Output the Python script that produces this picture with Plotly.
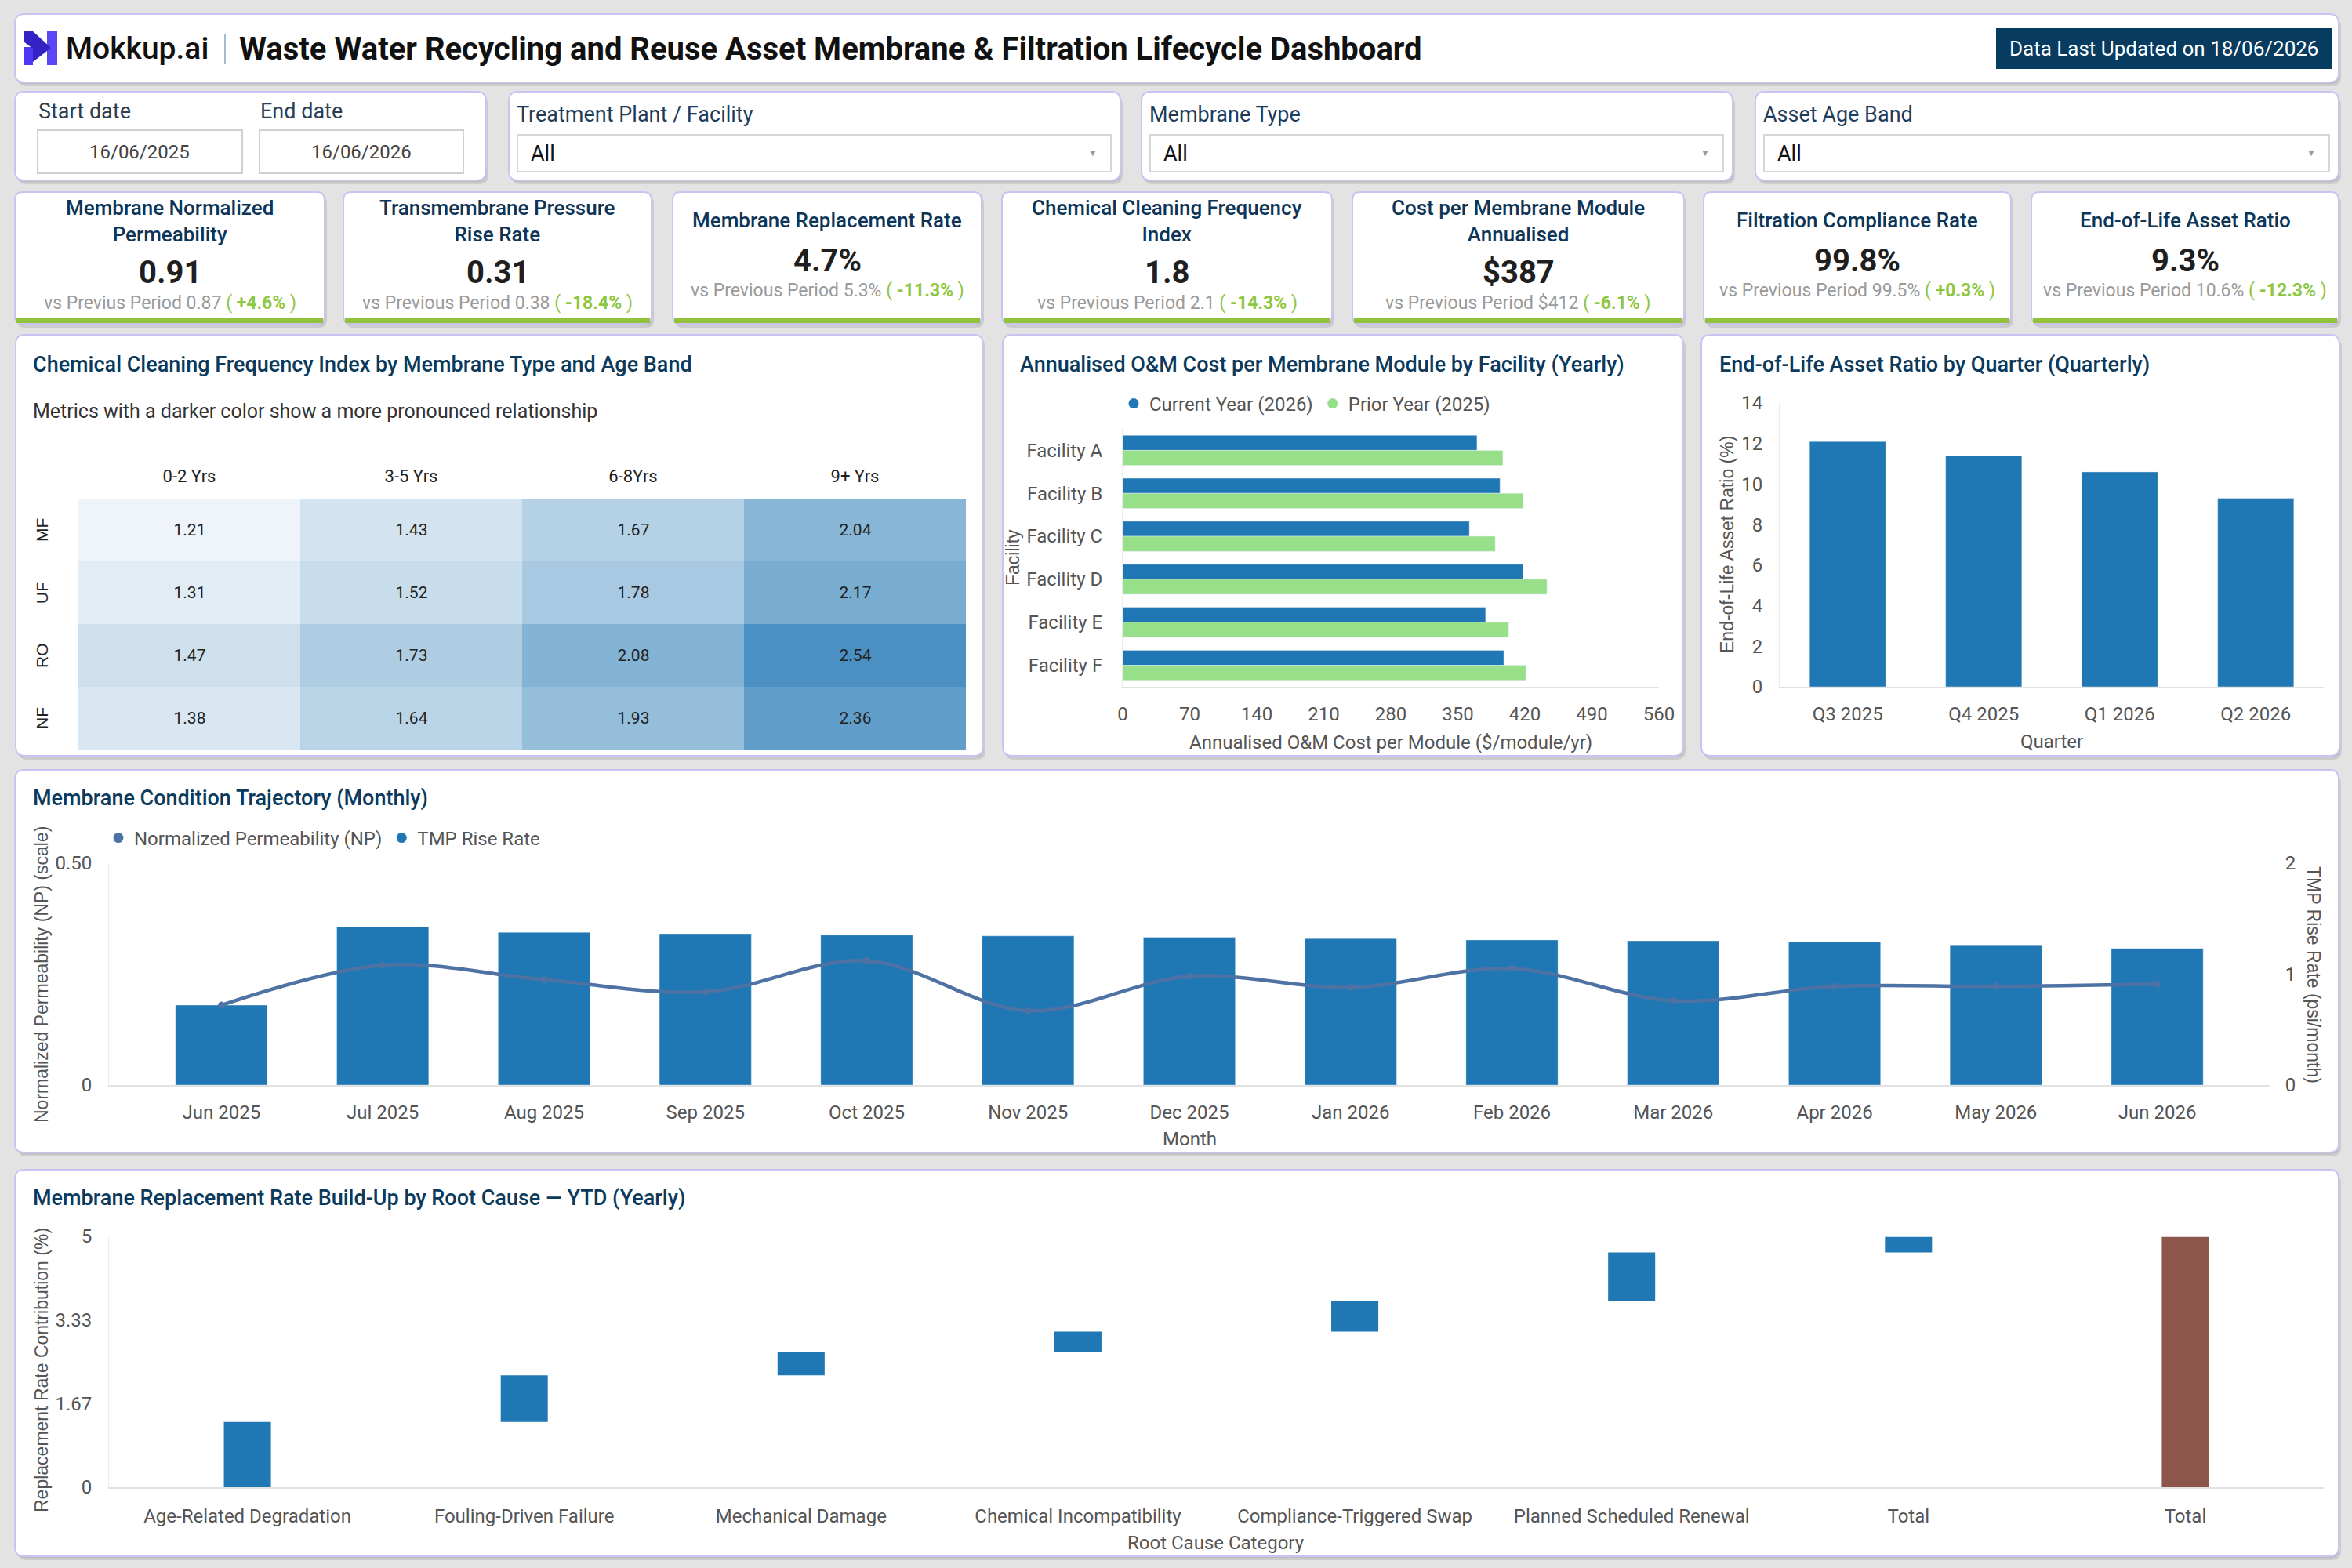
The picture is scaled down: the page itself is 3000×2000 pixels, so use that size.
import plotly.graph_objects as go

W, H = 3000, 2000


def px(x):
    return x / W


def py(y):
    return 1 - y / H


# ---------------- DATA ----------------
kpi_titles = ["Membrane Normalized<br>Permeability", "Transmembrane Pressure<br>Rise Rate",
              "Membrane Replacement Rate", "Chemical Cleaning Frequency<br>Index",
              "Cost per Membrane Module<br>Annualised", "Filtration Compliance Rate",
              "End-of-Life Asset Ratio"]
kpi_values = ["0.91", "0.31", "4.7%", "1.8", "$387", "99.8%", "9.3%"]
kpi_prev_labels = ["vs Previus Period", "vs Previous Period", "vs Previous Period", "vs Previous Period",
                   "vs Previous Period", "vs Previous Period", "vs Previous Period"]
kpi_prev = ["0.87", "0.38", "5.3%", "2.1", "$412", "99.5%", "10.6%"]
kpi_delta = ["+4.6%", "-18.4%", "-11.3%", "-14.3%", "-6.1%", "+0.3%", "-12.3%"]

age_bands = ["0-2 Yrs", "3-5 Yrs", "6-8Yrs", "9+ Yrs"]
membrane_types = ["MF", "UF", "RO", "NF"]
cleaning_index = [[1.21, 1.43, 1.67, 2.04],
                  [1.31, 1.52, 1.78, 2.17],
                  [1.47, 1.73, 2.08, 2.54],
                  [1.38, 1.64, 1.93, 2.36]]

facilities = ["Facility A", "Facility B", "Facility C", "Facility D", "Facility E", "Facility F"]
cost_current = [370, 394, 362, 418, 379, 398]
cost_prior = [397, 418, 389, 443, 403, 421]
cost_ticks = [0, 70, 140, 210, 280, 350, 420, 490, 560]

quarters = ["Q3 2025", "Q4 2025", "Q1 2026", "Q2 2026"]
eol_ratio = [12.1, 11.4, 10.6, 9.3]

months = ["Jun 2025", "Jul 2025", "Aug 2025", "Sep 2025", "Oct 2025", "Nov 2025", "Dec 2025",
          "Jan 2026", "Feb 2026", "Mar 2026", "Apr 2026", "May 2026", "Jun 2026"]
tmp_rise = [0.18, 0.357, 0.344, 0.341, 0.338, 0.336, 0.333, 0.330, 0.327, 0.325, 0.323, 0.316, 0.308]
np_values = [0.72, 1.08, 0.95, 0.84, 1.12, 0.67, 0.98, 0.88, 1.05, 0.76, 0.89, 0.89, 0.91]

root_causes = ["Age-Related Degradation", "Fouling-Driven Failure", "Mechanical Damage",
               "Chemical Incompatibility", "Compliance-Triggered Swap", "Planned Scheduled Renewal",
               "Total", "Total"]
contributions = [1.3, 0.93, 0.47, 0.4, 0.61, 0.97, 0.31, 0]
measures = ["relative"] * 7 + ["total"]

filter_labels = ["Treatment Plant / Facility", "Membrane Type", "Asset Age Band"]
filter_values = ["All", "All", "All"]
start_date, end_date = "16/06/2025", "16/06/2026"

# ---------------- STYLE ----------------
FONT = "Roboto"
AXFONT = "Liberation Sans, Arial"
TITLE_C = "#0b3a5c"
TICK_C = "#555555"
BLUE = "#1f77b4"
GREEN_BAR = "#98df8a"
LINE_C = "#4e72a3"
ACCENT = "#8dc63f"
BORDER = "#c9c4f2"
TICK_SIZE = 24

shapes = []
annotations = []


def rrect_path(x0, y0, x1, y1, r=12):
    rx, ry = r / W, r / H
    X0, X1, Y0, Y1 = px(x0), px(x1), py(y0), py(y1)
    return (f"M {X0+rx},{Y0} L {X1-rx},{Y0} Q {X1},{Y0} {X1},{Y0-ry} L {X1},{Y1+ry} "
            f"Q {X1},{Y1} {X1-rx},{Y1} L {X0+rx},{Y1} Q {X0},{Y1} {X0},{Y1+ry} "
            f"L {X0},{Y0-ry} Q {X0},{Y0} {X0+rx},{Y0} Z")


def card(x0, y0, x1, y1, r=12, border=BORDER):
    shapes.append(dict(type="path", xref="paper", yref="paper", layer="below",
                       path=rrect_path(x0 + 3, y0 + 5, x1 + 3, y1 + 5, r),
                       fillcolor="rgba(0,0,0,0.10)", line=dict(width=0)))
    shapes.append(dict(type="path", xref="paper", yref="paper", layer="below",
                       path=rrect_path(x0 + 1, y0 + 2, x1 + 1, y1 + 2, r),
                       fillcolor="rgba(0,0,0,0.08)", line=dict(width=0)))
    shapes.append(dict(type="path", xref="paper", yref="paper", layer="below",
                       path=rrect_path(x0, y0, x1, y1, r),
                       fillcolor="white", line=dict(color=border, width=2)))


def rect(x0, y0, x1, y1, fill="white", line_color=None, lw=0, layer="below"):
    shapes.append(dict(type="rect", xref="paper", yref="paper", layer=layer,
                       x0=px(x0), x1=px(x1), y0=py(y1), y1=py(y0), fillcolor=fill,
                       line=dict(color=line_color or fill, width=lw)))


def poly(points, color):
    d = "M " + " L ".join(f"{px(x)},{py(y)}" for x, y in points) + " Z"
    shapes.append(dict(type="path", xref="paper", yref="paper", layer="above", path=d,
                       fillcolor=color, line=dict(width=0)))


def text(x, y, s, size=22, color="#222", xanchor="left", yanchor="middle", weight=None,
         family=FONT, angle=0, align="left"):
    f = dict(size=size, color=color, family=family)
    if weight is not None:
        f["weight"] = weight
    annotations.append(dict(xref="paper", yref="paper", x=px(x), y=py(y), text=s, showarrow=False,
                            xanchor=xanchor, yanchor=yanchor, font=f, textangle=angle, align=align))


# ---------------- HEADER ----------------
card(19, 18, 2983, 105)
# logo
poly([(60, 40), (73, 40), (73, 83), (60, 83)], "#5a45f7")
poly([(30, 60), (42, 60), (42, 83), (30, 83)], "#4f3af3")
poly([(30, 40), (42, 40), (65, 61), (42, 79), (42, 62), (30, 53)], "#3522c4")
text(82, 62, "Mokkup.ai", size=39, color="#111", weight=500)
shapes.append(dict(type="line", xref="paper", yref="paper", x0=px(287), x1=px(287), y0=py(44), y1=py(82),
                   line=dict(color="#7fa9c7", width=1.5)))
text(303, 62, "Waste Water Recycling and Reuse Asset Membrane & Filtration Lifecycle Dashboard",
     size=40, color="#111", weight="bold")
rect(2546, 36, 2974, 88, fill="#073b5f", layer="above")
text(2760, 62, "Data Last Updated on 18/06/2026", size=26, color="white", xanchor="center")

# ---------------- FILTERS ----------------
card(19, 117, 620, 230)
text(47, 142, "Start date", size=27, color="#2c3e50")
text(330, 142, "End date", size=27, color="#2c3e50")
rect(48, 166, 309, 221, fill="white", line_color="#d0d0d0", lw=2)
rect(331, 166, 591, 221, fill="white", line_color="#d0d0d0", lw=2)
text(178, 194, start_date, size=24, color="#444", xanchor="center")
text(461, 194, end_date, size=24, color="#444", xanchor="center")

filter_boxes = [(649, 1429), (1456, 2210), (2239, 2983)]
for (fx0, fx1), lab, val in zip(filter_boxes, filter_labels, filter_values):
    card(fx0, 117, fx1, 230)
    text(fx0 + 8, 146, lab, size=27, color="#1e3d5c")
    rect(fx0 + 11, 172, fx1 - 12, 219, fill="white", line_color="#d6d6d6", lw=2)
    text(fx0 + 26, 196, val, size=27, color="#111")
    text(fx1 - 35, 195, "▼", size=12, color="#999", xanchor="center")

# ---------------- KPI CARDS ----------------
kpi_boxes = [(19, 414), (438, 831), (858, 1252), (1278, 1699), (1725, 2148), (2173, 2565), (2591, 2983)]
for (kx0, kx1), t, v, pl, pv, d in zip(kpi_boxes, kpi_titles, kpi_values, kpi_prev_labels, kpi_prev, kpi_delta):
    card(kx0, 245, kx1, 413, r=10)
    rect(kx0 + 2, 405, kx1 - 2, 412, fill="#93c13a")
    cx = (kx0 + kx1) / 2
    two = "<br>" in t
    ty, vy, sy = (282, 347, 386) if two else (281, 332, 370)
    text(cx, ty, t, size=26, color="#0d3557", xanchor="center", weight=500, align="center")
    text(cx, vy, v, size=40, color="#1f1f1f", xanchor="center", weight="bold")
    text(cx, sy, f"{pl} {pv} <span style='color:{ACCENT}'>( <b>{d}</b> )</span>",
         size=23, color="#9a9a9a", xanchor="center")

# ---------------- CHART CARDS ----------------
card(20, 427, 1254, 964)
card(1279, 427, 2147, 964)
card(2170, 427, 2984, 964)
card(19, 982, 2983, 1470)
card(19, 1492, 2983, 1985)

TS = 27
text(40, 465, "Chemical Cleaning Frequency Index by Membrane Type and Age Band", size=TS, color=TITLE_C, weight=500)
text(40, 525, "Metrics with a darker color show a more pronounced relationship", size=25, color="#333")
text(1299, 465, "Annualised O&M Cost per Membrane Module by Facility (Yearly)", size=TS, color=TITLE_C, weight=500)
text(2191, 465, "End-of-Life Asset Ratio by Quarter (Quarterly)", size=TS, color=TITLE_C, weight=500)
text(40, 1018, "Membrane Condition Trajectory (Monthly)", size=TS, color=TITLE_C, weight=500)
text(40, 1528, "Membrane Replacement Rate Build-Up by Root Cause \u2014 YTD (Yearly)", size=TS, color=TITLE_C, weight=500)

# axis titles
text(1292, 711, "Facility", size=23, color=TICK_C, xanchor="center", family=AXFONT, angle=-90)
text(1774, 947, "Annualised O&M Cost per Module ($/module/yr)", size=24, color=TICK_C, xanchor="center")
text(2203, 695, "End-of-Life Asset Ratio (%)", size=23, color=TICK_C, xanchor="center", family=AXFONT, angle=-90)
text(2617, 946, "Quarter", size=24, color=TICK_C, xanchor="center")
text(53, 1243, "Normalized Permeability (NP) (scale)", size=23, color=TICK_C, xanchor="center", family=AXFONT, angle=-90)
text(2951, 1243, "TMP Rise Rate (psi/month)", size=23, color=TICK_C, xanchor="center", family=AXFONT, angle=90)
text(1517, 1453, "Month", size=24, color=TICK_C, xanchor="center")
text(53, 1748, "Replacement Rate Contribution (%)", size=23, color=TICK_C, xanchor="center", family=AXFONT, angle=-90)
text(1551, 1968, "Root Cause Category", size=24, color=TICK_C, xanchor="center")

# heatmap row labels (rotated), placed on the heatmap's category axis
for mt in membrane_types:
    annotations.append(dict(xref="paper", yref="y", x=px(53), y=mt, text=mt, showarrow=False,
                            textangle=-90, xanchor="center", yanchor="middle",
                            font=dict(size=21, color="#222", family=AXFONT)))

# ---------------- TRACES ----------------
fig = go.Figure()

fig.add_trace(go.Heatmap(
    z=cleaning_index, x=age_bands, y=membrane_types, xaxis="x", yaxis="y",
    colorscale=[[0, "#eef4f9"], [1, "#4a90c2"]], zmin=1.21, zmax=2.54, showscale=False,
    texttemplate="%{z:.2f}", textfont=dict(size=21, color="#222", family=FONT), hoverinfo="skip"))

fig.add_trace(go.Bar(x=cost_current, y=facilities, orientation="h", xaxis="x2", yaxis="y2",
                     marker=dict(color=BLUE), name="Current Year (2026)", showlegend=False))
fig.add_trace(go.Bar(x=cost_prior, y=facilities, orientation="h", xaxis="x2", yaxis="y2",
                     marker=dict(color=GREEN_BAR), name="Prior Year (2025)", showlegend=False))
for nm, col in [("Current Year (2026)", BLUE), ("Prior Year (2025)", GREEN_BAR)]:
    fig.add_trace(go.Scatter(x=[None], y=[None], xaxis="x2", yaxis="y2", mode="markers",
                             marker=dict(size=13, color=col), name=nm, legend="legend"))

fig.add_trace(go.Bar(x=quarters, y=eol_ratio, xaxis="x3", yaxis="y3", width=0.56,
                     marker=dict(color=BLUE), showlegend=False))

fig.add_trace(go.Bar(x=months, y=tmp_rise, xaxis="x4", yaxis="y4", width=0.57,
                     marker=dict(color=BLUE, line=dict(color="rgba(255,255,255,0.35)", width=1)),
                     name="TMP Rise Rate", showlegend=False))
fig.add_trace(go.Scatter(x=months, y=np_values, xaxis="x4", yaxis="y5", mode="lines+markers",
                         line=dict(shape="spline", color=LINE_C, width=4.5),
                         marker=dict(size=9, color=LINE_C), name="Normalized Permeability (NP)",
                         showlegend=False))
for nm, col in [("Normalized Permeability (NP)", LINE_C), ("TMP Rise Rate", BLUE)]:
    fig.add_trace(go.Scatter(x=[None], y=[None], xaxis="x4", yaxis="y4", mode="markers",
                             marker=dict(size=13, color=col), name=nm, legend="legend2"))

fig.add_trace(go.Waterfall(x=list(range(len(root_causes))), y=contributions, measure=measures,
                           xaxis="x5", yaxis="y6", showlegend=False,
                           connector=dict(visible=False),
                           increasing=dict(marker=dict(color=BLUE)),
                           totals=dict(marker=dict(color="#8c564b"))))

# ---------------- LAYOUT ----------------
tickf = dict(size=TICK_SIZE, color=TICK_C, family=FONT)
base_ax = dict(showgrid=False, zeroline=False, ticks="", tickfont=tickf, fixedrange=True, automargin=False)
XSO = 12

fig.update_layout(
    width=W, height=H, margin=dict(l=0, r=0, t=0, b=0, pad=0, autoexpand=False),
    paper_bgcolor="#e3e3e3", plot_bgcolor="rgba(0,0,0,0)",
    font=dict(family=FONT, color="#333"),
    bargap=0.3, bargroupgap=0, barmode="group", waterfallgap=0.83,
    shapes=shapes, annotations=annotations,
    xaxis=dict(base_ax, domain=[px(100), px(1232)], anchor="y", side="top",
               tickfont=dict(size=22, color="#222", family=FONT), ticklabelstandoff=16),
    yaxis=dict(base_ax, domain=[py(956), py(636)], anchor="x", autorange="reversed", showticklabels=False),
    xaxis2=dict(base_ax, domain=[px(1432), px(2116)], anchor="y2", range=[0, 560], tickvals=cost_ticks,
                showline=True, linecolor="#e2e2e2", linewidth=2, ticklabelstandoff=XSO),
    yaxis2=dict(base_ax, domain=[py(876), py(547)], anchor="x2", autorange="reversed",
                showline=True, linecolor="#ececec", linewidth=1, ticklabelstandoff=20),
    xaxis3=dict(base_ax, domain=[px(2270), px(2964)], anchor="y3",
                showline=True, linecolor="#e2e2e2", linewidth=2, ticklabelstandoff=XSO),
    yaxis3=dict(base_ax, domain=[py(876), py(514)], anchor="x3", range=[0, 14], dtick=2,
                showline=True, linecolor="#ececec", linewidth=1, ticklabelstandoff=16),
    xaxis4=dict(base_ax, domain=[px(139), px(2895)], anchor="y4",
                showline=True, linecolor="#e2e2e2", linewidth=2, ticklabelstandoff=XSO),
    yaxis4=dict(base_ax, domain=[py(1384), py(1101)], anchor="x4", range=[0, 0.5],
                tickvals=[0, 0.5], ticktext=["0", "0.50"],
                showline=True, linecolor="#ececec", linewidth=1, ticklabelstandoff=16),
    yaxis5=dict(base_ax, overlaying="y4", side="right", anchor="x4", range=[0, 2], tickvals=[0, 1, 2],
                showline=True, linecolor="#ececec", linewidth=1, ticklabelstandoff=14),
    xaxis5=dict(base_ax, domain=[px(139), px(2964)], anchor="y6", range=[-0.5, len(root_causes) - 0.5],
                tickvals=list(range(len(root_causes))), ticktext=root_causes,
                showline=True, linecolor="#e2e2e2", linewidth=2, ticklabelstandoff=XSO + 2),
    yaxis6=dict(base_ax, domain=[py(1897), py(1577)], anchor="x5", range=[0, 5],
                tickvals=[0, 1.67, 3.33, 5], ticktext=["0", "1.67", "3.33", "5"],
                showline=True, linecolor="#ececec", linewidth=1, ticklabelstandoff=16),
    legend=dict(orientation="h", x=px(1426), y=py(515), xanchor="left", yanchor="middle",
                bgcolor="rgba(0,0,0,0)", font=dict(size=24, color=TICK_C, family=FONT),
                itemwidth=30, tracegroupgap=0),
    legend2=dict(orientation="h", x=px(131), y=py(1069), xanchor="left", yanchor="middle",
                 bgcolor="rgba(0,0,0,0)", font=dict(size=24, color=TICK_C, family=FONT),
                 itemwidth=30, tracegroupgap=0),
)

fig.write_html(
    "out.html",
    post_script="document.body.style.margin='0';document.body.style.padding='0';"
                "document.body.style.background='#e3e3e3';",
)
